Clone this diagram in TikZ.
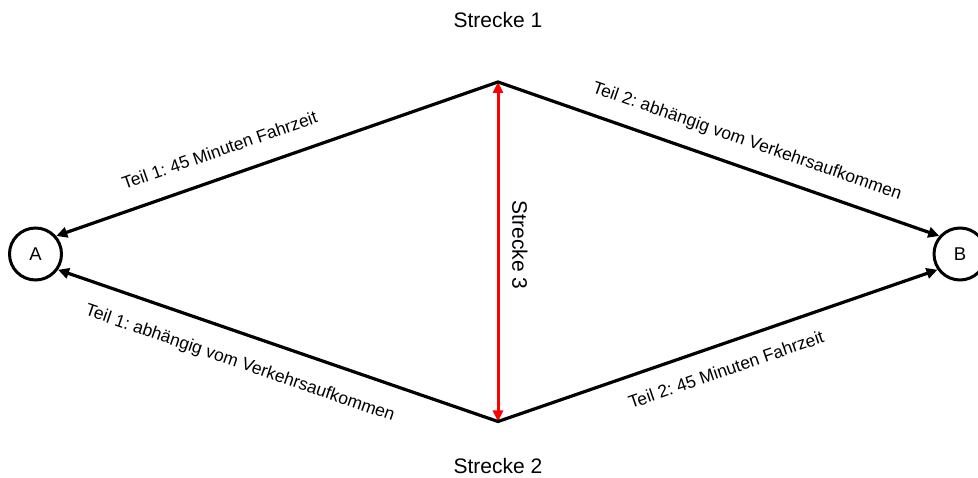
\documentclass[tikz,border=0pt]{standalone}
\usepackage{fontspec}
\setmainfont{Liberation Sans}
\usetikzlibrary{arrows.meta}
\frenchspacing
\begin{document}
\begin{tikzpicture}[x=1pt,y=1pt,
  place/.style={circle, draw, line width=3pt, minimum size=52pt, inner sep=0pt,
    font=\fontsize{18.5}{20}\selectfont},
  route/.style={line width=3.2pt, line join=miter,
    {Triangle[length=11pt,width=10.5pt]}-{Triangle[length=11pt,width=10.5pt]}},
  link/.style={draw=red, line width=3pt,
    {Triangle[length=11pt,width=10pt]}-{Triangle[length=11pt,width=10pt]}},
  lbl/.style={sloped, inner sep=0pt, font=\fontsize{17.5}{20}\selectfont},
  uplabel/.style={lbl, text depth=0pt, above=19.5pt},
  downlabel/.style={lbl, text height=12.5pt},
  title/.style={font=\fontsize{21}{24}\selectfont}
]
\useasboundingbox (0,0) rectangle (978,477);

% the two end points
\node[place] (A) at (35.5,223) {A};
\node[place] (B) at (960,223) {B};

% corners where the routes meet
\coordinate (T) at (498,395);
\coordinate (U) at (498,55.5);

% connecting route between the corners
\draw[link] (T) -- (U);

% upper route
\draw[route] (A.41)
  -- node[uplabel, pos=0.39] {Teil 1: 45 Minuten Fahrzeit} (T)
  -- node[uplabel, pos=0.545] {Teil 2: abhängig vom Verkehrsaufkommen} (B.139);

% lower route
\draw[route] (A.-35)
  -- node[downlabel, below=20pt, pos=0.435] {Teil 1: abhängig vom Verkehrsaufkommen} (U)
  -- node[downlabel, below=17.5pt, pos=0.5] {Teil 2: 45 Minuten Fahrzeit} (B.-145);

% route names
\node[title, anchor=base] (s1) at (498,449) {Strecke 1};
\node[title, anchor=base] (s2) at (498,4) {Strecke 2};
\node[title, rotate=-90] (s3) at (520,232) {Strecke 3};
\end{tikzpicture}
\end{document}
